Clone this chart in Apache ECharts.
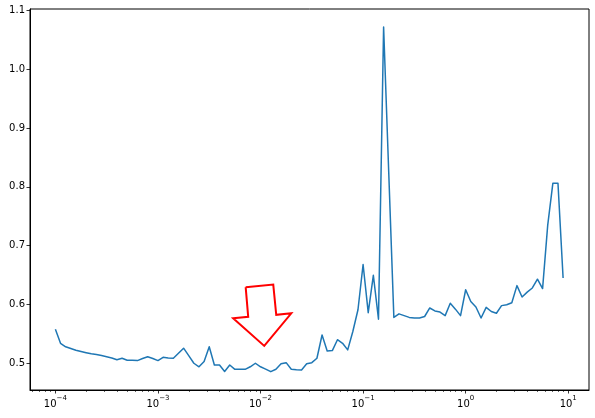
<!DOCTYPE html>
<html>
<head>
<meta charset="utf-8">
<script src="https://cdn.jsdelivr.net/npm/echarts@6/dist/echarts.min.js"></script>
<style>
html,body{margin:0;padding:0;background:#fff;}
#chart{width:595px;height:418px;}
</style>
</head>
<body>
<div id="chart"></div>
<script>
// x values (log-spaced, 20 per decade)
const xValues = [
  1.000e-4,1.122e-4,1.259e-4,1.413e-4,1.585e-4,1.778e-4,1.995e-4,2.239e-4,2.512e-4,2.818e-4,
  3.162e-4,3.548e-4,3.981e-4,4.467e-4,5.012e-4,5.623e-4,6.310e-4,7.079e-4,7.943e-4,8.913e-4,
  1.000e-3,1.122e-3,1.259e-3,1.413e-3,1.585e-3,1.778e-3,1.995e-3,2.239e-3,2.512e-3,2.818e-3,
  3.162e-3,3.548e-3,3.981e-3,4.467e-3,5.012e-3,5.623e-3,6.310e-3,7.079e-3,7.943e-3,8.913e-3,
  1.000e-2,1.122e-2,1.259e-2,1.413e-2,1.585e-2,1.778e-2,1.995e-2,2.239e-2,2.512e-2,2.818e-2,
  3.162e-2,3.548e-2,3.981e-2,4.467e-2,5.012e-2,5.623e-2,6.310e-2,7.079e-2,7.943e-2,8.913e-2,
  1.000e-1,1.122e-1,1.259e-1,1.413e-1,1.585e-1,1.778e-1,1.995e-1,2.239e-1,2.512e-1,2.818e-1,
  3.162e-1,3.548e-1,3.981e-1,4.467e-1,5.012e-1,5.623e-1,6.310e-1,7.079e-1,7.943e-1,8.913e-1,
  1.000e0,1.122e0,1.259e0,1.413e0,1.585e0,1.778e0,1.995e0,2.239e0,2.512e0,2.818e0,
  3.162e0,3.548e0,3.981e0,4.467e0,5.012e0,5.623e0,6.310e0,7.079e0,7.943e0,8.913e0
];
// y values
const yValues = [
  0.558,0.534,0.528,0.525,0.522,0.520,0.518,0.516,0.515,0.513,
  0.511,0.509,0.506,0.5085,0.505,0.505,0.5045,0.508,0.511,0.508,
  0.5045,0.510,0.509,0.5085,0.517,0.5256,0.513,0.500,0.494,0.503,
  0.528,0.497,0.497,0.486,0.497,0.4897,0.4897,0.4897,0.494,0.500,
  0.494,0.490,0.4857,0.4897,0.499,0.501,0.4897,0.489,0.4886,0.499,
  0.501,0.5085,0.548,0.521,0.5215,0.540,0.534,0.5227,0.554,0.591,
  0.668,0.586,0.6495,0.575,1.072,0.825,0.578,0.584,0.581,0.578,
  0.577,0.577,0.5795,0.594,0.589,0.587,0.581,0.602,0.592,0.581,
  0.625,0.605,0.5956,0.577,0.595,0.588,0.585,0.598,0.5995,0.603,
  0.632,0.6126,0.621,0.628,0.643,0.627,0.735,0.806,0.806,0.645
];
// annotation arrow outline (data coordinates)
const arrowX = [0.007165,0.01331,0.01423,0.01995,0.01087,0.005408,0.007583,0.007165];
const arrowY = [0.6294,0.6338,0.5824,0.585,0.5295,0.5765,0.579,0.6294];
// tick positions
const xMajorTicks = [1e-4,1e-3,1e-2,1e-1,1e0,1e1];
const xMinorTicks = [];
[1e-5,1e-4,1e-3,1e-2,1e-1,1e0,1e1].forEach(function(d){
  [2,3,4,5,6,7,8,9].forEach(function(m){ xMinorTicks.push(+(m*d).toPrecision(3)); });
});
const yTicks = [0.5,0.6,0.7,0.8,0.9,1.0,1.1];

const xMin = Math.pow(10,-4.2475);
const xMax = Math.pow(10,1.2025);
const yMin = 0.4545;
const yMax = 1.1025;

const FONT = 'DejaVu Sans';
const supMap = {'-':'\u2212'};
function expLabel(v){
  const e = Math.round(Math.log10(v));
  const s = String(e).replace('-', '\u2212');
  return '{b|10}{s|' + s + '}';
}

const chart = echarts.init(document.getElementById('chart'), null, {renderer:'canvas'});
chart.setOption({
  animation:false,
  backgroundColor:'#ffffff',
  grid:{left:30,right:6,top:9,bottom:28,show:true,borderColor:'#000',borderWidth:1,backgroundColor:'transparent'},
  xAxis:[{
    type:'log', logBase:10, min:xMin, max:xMax,
    axisLine:{show:true,onZero:false,lineStyle:{color:'#000',width:1}},
    axisTick:{show:true,length:3.5,customValues:xMajorTicks,lineStyle:{color:'#000',width:0.8}},
    minorTick:{show:false},
    splitLine:{show:false},
    axisLabel:{show:true,margin:5,customValues:xMajorTicks,formatter:expLabel,
      rich:{
        b:{fontSize:10,fontFamily:FONT,color:'#000',verticalAlign:'bottom',lineHeight:14},
        s:{fontSize:7,fontFamily:FONT,color:'#000',verticalAlign:'top',lineHeight:14}
      }}
  },{
    type:'log', logBase:10, min:xMin, max:xMax, position:'bottom', gridIndex:0,
    axisLine:{show:false},
    axisTick:{show:true,length:2,customValues:xMinorTicks.filter(function(v){return v>xMin && v<xMax;}),lineStyle:{color:'#000',width:0.6}},
    axisLabel:{show:false},
    splitLine:{show:false}
  }],
  yAxis:{
    type:'value', min:yMin, max:yMax,
    axisLine:{show:true,onZero:false,lineStyle:{color:'#000',width:1}},
    axisTick:{show:true,length:3.5,customValues:yTicks,lineStyle:{color:'#000',width:0.8}},
    splitLine:{show:false},
    axisLabel:{show:true,margin:5,customValues:yTicks,fontSize:10,fontFamily:FONT,color:'#000',
      formatter:function(v){return v.toFixed(1);}}
  },
  series:[{
    type:'line',
    xAxisIndex:0,
    data:xValues.map(function(x,i){return [x,yValues[i]];}),
    showSymbol:false, symbol:'none',
    lineStyle:{color:'#1f77b4',width:1.5,join:'round'},
    itemStyle:{color:'#1f77b4'},
    z:3
  },{
    type:'line',
    xAxisIndex:0,
    data:arrowX.map(function(x,i){return [x,arrowY[i]];}),
    showSymbol:false, symbol:'none',
    lineStyle:{color:'#ff0000',width:2,join:'miter'},
    z:4
  }]
});
</script>
</body>
</html>
